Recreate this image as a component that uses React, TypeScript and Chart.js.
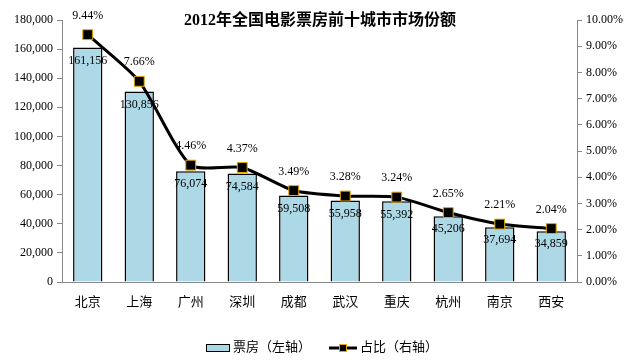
import React, { useEffect, useRef } from "react";
import { Chart, registerables } from "chart.js";

Chart.register(...registerables);

const categories = ["北京", "上海", "广州", "深圳", "成都", "武汉", "重庆", "杭州", "南京", "西安"];
const boxOffice = [161156, 130856, 76074, 74584, 59508, 55958, 55392, 45206, 37694, 34859];
const sharePct = [9.44, 7.66, 4.46, 4.37, 3.49, 3.28, 3.24, 2.65, 2.21, 2.04];
const titleText = "2012年全国电影票房前十城市市场份额";
const legendBar = "票房（左轴）";
const legendLine = "占比（右轴）";

const FONT = '"Liberation Serif", "Noto Sans CJK SC", serif';

const labelPlugin = {
  id: "customLabels",
  afterDatasetDraw(chart: any, args: any) {
    if (args.index !== 0) return;
    const ctx = chart.ctx;
    const meta = chart.getDatasetMeta(0);
    ctx.save();
    ctx.font = `12px ${FONT}`;
    ctx.fillStyle = "#000";
    ctx.textAlign = "center";
    ctx.textBaseline = "middle";
    meta.data.forEach((bar: any, i: number) => {
      ctx.fillText(boxOffice[i].toLocaleString("en-US"), bar.x, bar.y + 13);
    });
    ctx.restore();
  },
  afterDatasetsDraw(chart: any) {
    const ctx = chart.ctx;
    const meta = chart.getDatasetMeta(1);
    ctx.save();
    ctx.font = `12px ${FONT}`;
    ctx.fillStyle = "#000";
    ctx.textAlign = "center";
    ctx.textBaseline = "middle";
    meta.data.forEach((pt: any, i: number) => {
      ctx.fillText(sharePct[i].toFixed(2) + "%", pt.x, pt.y - 19);
    });
    ctx.restore();
  },
  afterDraw(chart: any) {
    const ctx = chart.ctx;
    ctx.save();
    // title
    ctx.font = `bold 16px ${FONT}`;
    ctx.fillStyle = "#000";
    ctx.textAlign = "center";
    ctx.textBaseline = "middle";
    ctx.fillText(titleText, 320, 21);
    // legend
    const ly = 348;
    ctx.fillStyle = "#ADD8E6";
    ctx.fillRect(206, ly - 4, 24, 8);
    ctx.strokeStyle = "#000";
    ctx.lineWidth = 1;
    ctx.strokeRect(206.5, ly - 3.5, 23, 7);
    ctx.font = `13px ${FONT}`;
    ctx.fillStyle = "#000";
    ctx.textAlign = "left";
    ctx.fillText(legendBar, 233, ly);
    ctx.strokeStyle = "#000";
    ctx.lineWidth = 3;
    ctx.beginPath();
    ctx.moveTo(329, ly);
    ctx.lineTo(357, ly);
    ctx.stroke();
    ctx.fillStyle = "#000";
    ctx.fillRect(339, ly - 4, 8, 8);
    ctx.strokeStyle = "#E8A800";
    ctx.lineWidth = 1;
    ctx.strokeRect(339.5, ly - 3.5, 7, 7);
    ctx.fillStyle = "#000";
    ctx.fillText(legendLine, 360, ly);
    ctx.restore();
  },
};

export default function App() {
  const ref = useRef<HTMLCanvasElement>(null);
  useEffect(() => {
    document.body.style.margin = "0";
    const chart = new Chart(ref.current!, {
      type: "bar",
      data: {
        labels: categories,
        datasets: [
          {
            type: "bar",
            label: legendBar,
            data: boxOffice,
            backgroundColor: "#ADD8E6",
            borderColor: "#000",
            borderWidth: 1.5,
            categoryPercentage: 1,
            barPercentage: 0.57,
            yAxisID: "y",
            order: 1,
          },
          {
            type: "line",
            label: legendLine,
            data: sharePct,
            borderColor: "#000",
            borderWidth: 3,
            tension: 0.22,
            pointStyle: "rect",
            pointRadius: 7,
            pointBackgroundColor: "#000",
            pointBorderColor: "#E8A800",
            pointBorderWidth: 1,
            yAxisID: "y1",
            order: 0,
          } as any,
        ],
      },
      options: {
        animation: false,
        responsive: false,
        layout: { padding: { top: 20, left: 0, right: 0, bottom: 0 } },
        plugins: { legend: { display: false }, tooltip: { enabled: false }, title: { display: false } },
        scales: {
          x: {
            grid: { display: false },
            border: { color: "#888", width: 1 },
            ticks: { font: { family: FONT, size: 13 }, color: "#000", padding: 5 },
            afterFit: (s: any) => { s.height = 79; },
          },
          y: {
            position: "left",
            min: 0,
            max: 180000,
            grid: { drawOnChartArea: false, drawTicks: true, tickLength: 5, color: "#888" },
            border: { color: "#888", width: 1 },
            ticks: {
              stepSize: 20000,
              font: { family: FONT, size: 12 },
              color: "#000",
              padding: 4,
              callback: (v: any) => Number(v).toLocaleString("en-US"),
            },
            afterFit: (s: any) => { s.width = 62; },
          },
          y1: {
            position: "right",
            min: 0,
            max: 10,
            grid: { drawOnChartArea: false, drawTicks: true, tickLength: 5, color: "#888" },
            border: { color: "#888", width: 1 },
            ticks: {
              stepSize: 1,
              font: { family: FONT, size: 12 },
              color: "#000",
              padding: 4,
              callback: (v: any) => Number(v).toFixed(2) + "%",
            },
            afterFit: (s: any) => { s.width = 56; },
          },
        },
      },
      plugins: [labelPlugin],
    });
    return () => chart.destroy();
  }, []);
  return (
    <div style={{ width: 633, height: 361 }}>
      <canvas ref={ref} width={633} height={361} />
    </div>
  );
}
